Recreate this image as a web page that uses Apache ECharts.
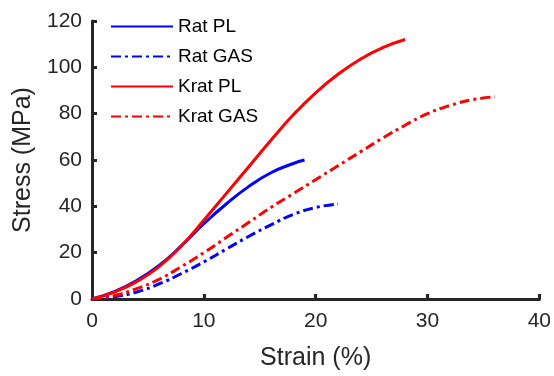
<!DOCTYPE html>
<html>
<head>
<meta charset="utf-8">
<script src="https://cdn.jsdelivr.net/npm/echarts@6/dist/echarts.min.js"></script>
<style>
  html, body { margin: 0; padding: 0; background: #fff; }
  #chart { width: 554px; height: 376px; }
</style>
</head>
<body>
<div id="chart"></div>
<script>
// strain (%) and stress (MPa)
const ratPLx = [0, 2, 4, 6, 8, 10, 12, 14, 16, 18, 19];
const ratPLy = [0, 3.2, 8, 14.5, 23, 32.5, 41, 48.5, 54.5, 58.5, 60];

const ratGASx = [0, 2, 4, 6, 8, 10, 12, 14, 16, 18, 20, 22];
const ratGASy = [0, 1, 3, 6.5, 11, 16, 21.5, 27, 32, 36.5, 39.5, 41];

const kratPLx = [0, 2, 4, 6, 8, 10, 12, 14, 16, 18, 20, 22, 24, 26, 28];
const kratPLy = [0, 3, 7.5, 14, 23, 34, 45.5, 57, 68.5, 79.5, 89, 97, 103.5, 108.5, 112];

const kratGASx = [0, 2, 4, 6, 8, 10, 12, 14, 16, 18, 20, 22, 24, 26, 28, 30, 32, 34, 36];
const kratGASy = [0, 1.5, 4.5, 8.5, 14, 20, 26.5, 33, 39.5, 45.5, 51.5, 57.5, 63.5, 69.5, 75, 80, 83.5, 86, 87.3];

const seriesNames = ['Rat PL', 'Rat GAS', 'Krat PL', 'Krat GAS'];

const pairs = (xs, ys) => xs.map((x, i) => [x, ys[i]]);

const axisColor = '#262626';
const font = 'Liberation Sans, Arial, sans-serif';
const dashDot = [10, 4, 3, 4];

function makeSeries(name, data, color, dashed) {
  return {
    name: name,
    type: 'line',
    data: data,
    smooth: 0.5,
    symbol: 'none',
    lineStyle: { color: color, width: 3, type: dashed ? dashDot : 'solid' },
    itemStyle: { color: color }
  };
}

const chart = echarts.init(document.getElementById('chart'));
chart.setOption({
  animation: false,
  grid: { left: 92, right: 14, top: 21, bottom: 76 },
  legend: {
    data: seriesNames,
    orient: 'vertical',
    left: 105,
    top: 12,
    itemWidth: 62,
    itemHeight: 14,
    itemGap: 11,
    itemStyle: { opacity: 0 },
    textStyle: { fontFamily: font, fontSize: 19, color: '#000' }
  },
  xAxis: {
    type: 'value',
    min: 0, max: 40, interval: 10,
    name: 'Strain (%)',
    nameLocation: 'middle',
    nameGap: 47,
    nameTextStyle: { fontFamily: font, fontSize: 25, color: axisColor },
    axisLine: { lineStyle: { color: axisColor, width: 3 } },
    axisTick: { inside: true, length: 5, lineStyle: { color: axisColor, width: 3 } },
    axisLabel: { fontFamily: font, fontSize: 21, color: axisColor, margin: 12 },
    splitLine: { show: false }
  },
  yAxis: {
    type: 'value',
    min: 0, max: 120, interval: 20,
    name: 'Stress (MPa)',
    nameLocation: 'middle',
    nameGap: 51,
    nameTextStyle: { fontFamily: font, fontSize: 25, color: axisColor },
    axisLine: { show: true, lineStyle: { color: axisColor, width: 3 } },
    axisTick: { show: true, inside: true, length: 5, lineStyle: { color: axisColor, width: 3 } },
    axisLabel: { fontFamily: font, fontSize: 21, color: axisColor, margin: 10 },
    splitLine: { show: false }
  },
  series: [
    makeSeries(seriesNames[0], pairs(ratPLx, ratPLy), '#0000ff', false),
    makeSeries(seriesNames[1], pairs(ratGASx, ratGASy), '#0000ff', true),
    makeSeries(seriesNames[2], pairs(kratPLx, kratPLy), '#ff0000', false),
    makeSeries(seriesNames[3], pairs(kratGASx, kratGASy), '#ff0000', true)
  ]
});
</script>
</body>
</html>
